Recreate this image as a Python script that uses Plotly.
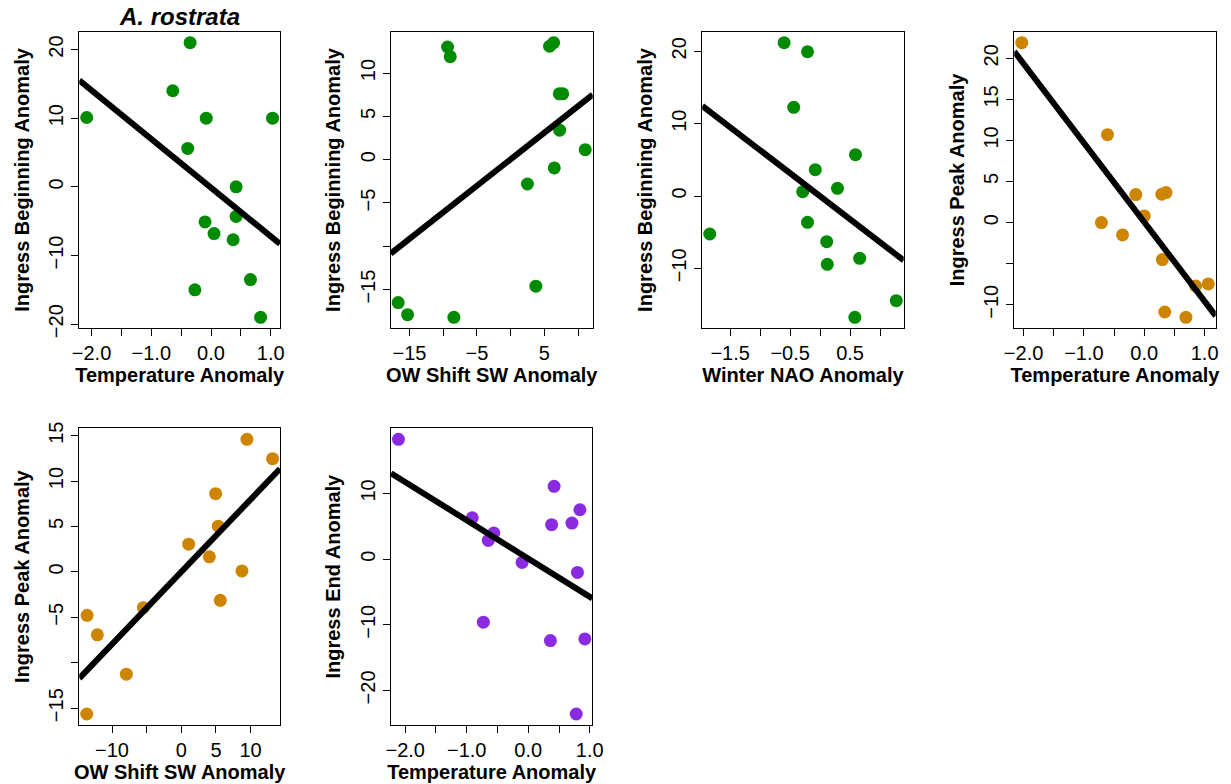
import numpy as np
import plotly.graph_objects as go

W, H = 1231, 784

# ---------------- data ----------------
p1_x = [-2.08, -0.35, -0.64, -0.08, 1.03, -0.39, 0.42, 0.42, -0.10, 0.05, 0.37, 0.66, -0.27, 0.83]
p1_y = [10.1, 21.0, 14.0, 10.0, 10.0, 5.6, 0.0, -4.3, -5.1, -6.8, -7.7, -13.5, -15.0, -19.0]

p2_x = [-9.36, -8.96, 5.78, 6.37, 7.22, 7.72, 7.27, 11.06, 6.47, 2.49, 3.74, -16.68, -15.29, -8.42]
p2_y = [13.0, 11.9, 13.1, 13.5, 7.6, 7.6, 3.4, 1.15, -0.96, -2.81, -14.6, -16.5, -17.9, -18.2]

p3_x = [-0.60, -0.21, -0.44, 0.59, -0.08, 0.29, -0.29, -0.21, 0.11, 0.12, 0.66, -1.84, 1.27, 0.58]
p3_y = [21.2, 19.95, 12.26, 5.71, 3.64, 1.06, 0.60, -3.64, -6.31, -9.45, -8.62, -5.25, -14.47, -16.77]

p4_x = [-2.03, -0.61, -0.14, 0.29, 0.36, 0.0, -0.71, -0.36, 0.30, 0.85, 1.06, 0.34, 0.69]
p4_y = [21.9, 10.7, 3.41, 3.45, 3.65, 0.81, 0.0, -1.50, -4.5, -7.71, -7.47, -10.88, -11.53]

p5_x = [9.47, 13.17, 4.95, 5.34, 1.06, 4.04, 8.75, 5.63, -5.48, -13.6, -12.12, -7.93, -13.65]
p5_y = [14.6, 12.47, 8.61, 5.04, 3.05, 1.66, 0.11, -3.13, -3.94, -4.78, -6.92, -11.26, -15.64]

p6_x = [-2.11, 0.42, 0.84, 0.38, 0.71, -0.91, -0.56, -0.65, -0.10, 0.80, -0.73, 0.36, 0.92, 0.78]
p6_y = [18.25, 11.08, 7.52, 5.24, 5.49, 6.30, 3.97, 2.85, -0.51, -2.03, -9.61, -12.40, -12.15, -23.59]

x_titles = ["Temperature Anomaly", "OW Shift SW Anomaly", "Winter NAO Anomaly",
            "Temperature Anomaly", "OW Shift SW Anomaly", "Temperature Anomaly"]
y_titles = ["Ingress Beginning Anomaly", "Ingress Beginning Anomaly", "Ingress Beginning Anomaly",
            "Ingress Peak Anomaly", "Ingress Peak Anomaly", "Ingress End Anomaly"]

temp_ticks = [-2.0, -1.5, -1.0, -0.5, 0.0, 0.5, 1.0]
temp_text = ["−2.0", "", "−1.0", "", "0.0", "", "1.0"]
ow_ticks = [-15, -10, -5, 0, 5, 10]
ow_text_a = ["−15", "", "−5", "", "5", ""]
ow_ticks_b = [-10, -5, 0, 5, 10]
ow_text_b = ["−10", "", "0", "5", "10"]
nao_ticks = [-1.5, -1.0, -0.5, 0.0, 0.5, 1.0]
nao_text = ["−1.5", "", "−0.5", "", "0.5", ""]

y1_ticks = [-20, -10, 0, 10, 20]
y1_text = ["−20", "−10", "0", "10", "20"]
y2_ticks = [-15, -10, -5, 0, 5, 10]
y2_text = ["−15", "", "−5", "0", "5", "10"]
y3_ticks = [-10, 0, 10, 20]
y3_text = ["−10", "0", "10", "20"]
y4_ticks = [-10, -5, 0, 5, 10, 15, 20]
y4_text = ["−10", "", "0", "5", "10", "15", "20"]
y5_ticks = [-15, -10, -5, 0, 5, 10, 15]
y5_text = ["−15", "", "−5", "0", "5", "10", "15"]
y6_ticks = [-20, -10, 0, 10]
y6_text = ["−20", "−10", "0", "10"]

GREEN = "#008B00"
ORANGE = "#CD8500"
PURPLE = "#8A2BE2"

panels = [
    dict(x=p1_x, y=p1_y, c=GREEN, xt=(temp_ticks, temp_text), yt=(y1_ticks, y1_text), box=(79.3, 280.0, 31.7, 328.3)),
    dict(x=p2_x, y=p2_y, c=GREEN, xt=(ow_ticks, ow_text_a), yt=(y2_ticks, y2_text), box=(390.7, 592.7, 31.7, 328.3)),
    dict(x=p3_x, y=p3_y, c=GREEN, xt=(nao_ticks, nao_text), yt=(y3_ticks, y3_text), box=(702.3, 903.7, 31.7, 328.3)),
    dict(x=p4_x, y=p4_y, c=ORANGE, xt=(temp_ticks, temp_text), yt=(y4_ticks, y4_text), box=(1014.3, 1215.7, 31.7, 328.3)),
    dict(x=p5_x, y=p5_y, c=ORANGE, xt=(ow_ticks_b, ow_text_b), yt=(y5_ticks, y5_text), box=(79.3, 280.0, 428.3, 725.0)),
    dict(x=p6_x, y=p6_y, c=PURPLE, xt=(temp_ticks, temp_text), yt=(y6_ticks, y6_text), box=(391.0, 592.3, 428.3, 725.0)),
]

FONT = "Liberation Sans, Arial, Helvetica, sans-serif"

def r_range(v):
    lo, hi = min(v), max(v)
    d = (hi - lo) * 0.04
    return [lo - d, hi + d]

fig = go.Figure()
layout = dict(
    width=W, height=H, margin=dict(l=0, r=0, t=0, b=0, autoexpand=False),
    paper_bgcolor="white", plot_bgcolor="white", showlegend=False,
    font=dict(family=FONT, size=20, color="black"),
)

for i, p in enumerate(panels):
    k = "" if i == 0 else str(i + 1)
    xa, ya = "x" + k, "y" + k
    xr, yr = r_range(p["x"]), r_range(p["y"])
    slope, icpt = np.polyfit(np.array(p["x"]), np.array(p["y"]), 1)
    fig.add_trace(go.Scatter(x=p["x"], y=p["y"], mode="markers", xaxis=xa, yaxis=ya,
                             marker=dict(size=13, color=p["c"], line=dict(width=0)),
                             cliponaxis=False, hoverinfo="skip"))
    lx = np.array(xr)
    fig.add_trace(go.Scatter(x=lx, y=icpt + slope * lx, mode="lines", xaxis=xa, yaxis=ya,
                             line=dict(color="black", width=6), hoverinfo="skip"))
    x0, x1, y0, y1 = p["box"]
    common = dict(showline=True, mirror=True, linecolor="black", linewidth=1,
                  ticks="outside", ticklen=7, tickwidth=1, tickcolor="black",
                  showgrid=False, zeroline=False, automargin=False,
                  tickfont=dict(family=FONT, size=20, color="black"))
    layout["xaxis" + k] = dict(common, domain=[x0 / W, x1 / W], range=xr, anchor=ya,
                               tickmode="array", tickvals=p["xt"][0], ticktext=p["xt"][1],
                               title=dict(text=x_titles[i], standoff=4,
                                          font=dict(family=FONT, size=20, weight="bold", color="black")))
    layout["yaxis" + k] = dict(common, domain=[1 - y1 / H, 1 - y0 / H], range=yr, anchor=xa,
                               tickmode="array", tickvals=p["yt"][0], ticktext=p["yt"][1],
                               tickangle=-90,
                               title=dict(text=y_titles[i], standoff=10,
                                          font=dict(family=FONT, size=20, weight="bold", color="black")))

fig.update_layout(**layout)
fig.add_annotation(text="A. rostrata", x=(79.3 + 280.0) / 2 / W, y=1 - 16.5 / H,
                   xref="paper", yref="paper", showarrow=False, xanchor="center", yanchor="middle",
                   font=dict(family=FONT, size=24, weight="bold", style="italic", color="black"))

fig.write_html("out.html")
